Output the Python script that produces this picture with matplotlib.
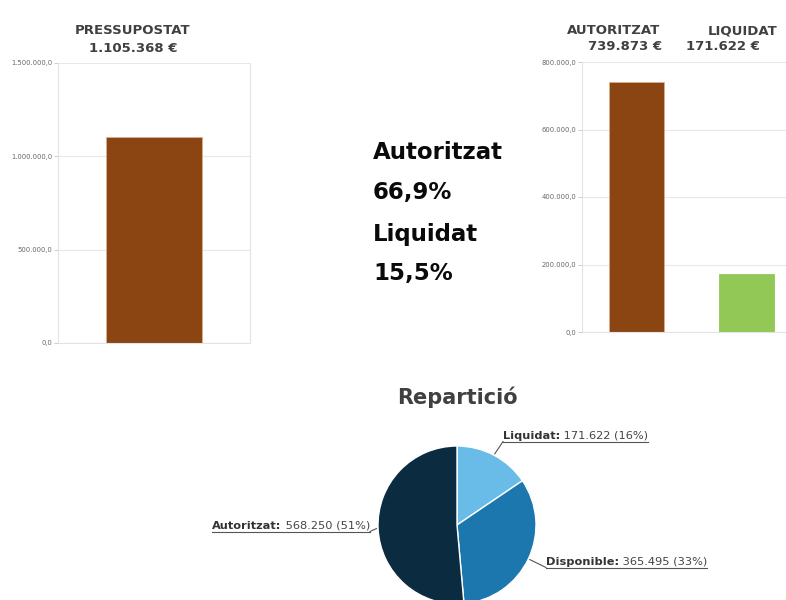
import matplotlib
matplotlib.use("Agg")
import matplotlib.pyplot as plt
import numpy as np
from matplotlib.lines import Line2D
from matplotlib.transforms import IdentityTransform

# ---------------- data ----------------
budget = 1105368
authorized = 739873
liquidated = 171622
left_label = "PRESSUPOSTAT"
right_labels = ["AUTORITZAT", "LIQUIDAT"]
right_values = [authorized, liquidated]
left_ticks = [0, 500000, 1000000, 1500000]
right_ticks = [0, 200000, 400000, 600000, 800000]
pie_title = "Repartició"
pie_labels = ["Liquidat", "Disponible", "Autoritzat"]
pie_values = [171622, 365495, 568250]

W, H = 786, 600
BROWN = "#8B4513"
GREEN = "#92C855"
PIE_COLORS = ["#6ABCE8", "#1C77AE", "#0B2B40"]
TITLE_C = "#404040"


def fx(px):
    return px / W


def fy(py):
    return 1 - py / H


def thou(v, dec=0):
    s = f"{v:,.{dec}f}"
    return s.replace(",", "X").replace(".", ",").replace("X", ".")


fig = plt.figure(figsize=(W / 100, H / 100), dpi=100)
fig.patch.set_facecolor("white")


def style_bar_axes(ax, ticks, right_spine):
    ax.set_ylim(ticks[0], ticks[-1])
    ax.set_yticks(ticks)
    ax.set_yticklabels([thou(t, 1) for t in ticks], fontsize=4.9, color="#666666")
    ax.set_xticks([])
    ax.yaxis.grid(True, color="#e8e8e8", lw=0.8)
    ax.set_axisbelow(True)
    for s in ["left", "bottom", "right", "top"]:
        ax.spines[s].set_color("#e3e3e3")
        ax.spines[s].set_linewidth(0.8)
    ax.spines["top"].set_visible(False)
    ax.spines["right"].set_visible(right_spine)
    ax.tick_params(axis="y", length=3, width=0.7, color="#cccccc", pad=1)


# ---------------- left bar chart ----------------
axL = fig.add_axes([fx(58), fy(343), 192 / W, 280 / H])
axL.bar([0], [budget], width=0.99, color=BROWN, edgecolor="#d8b08a", lw=0.6)
axL.set_xlim(-1, 1)
style_bar_axes(axL, left_ticks, True)
fig.text(fx(133), fy(31), left_label, ha="center", va="center",
         fontsize=9.5, weight="bold", color=TITLE_C)
fig.text(fx(133), fy(48), thou(budget) + " €", ha="center", va="center",
         fontsize=9.5, weight="bold", color=TITLE_C)

# ---------------- right bar chart ----------------
axR = fig.add_axes([fx(582), fy(332), 219 / W, 270 / H])
axR.bar([0, 1], right_values, width=0.5, color=[BROWN, GREEN],
        edgecolor=["#d8b08a", GREEN], lw=0.6)
axR.set_xlim(-0.5, 1.5)
style_bar_axes(axR, right_ticks, False)
name_x = [614, 743]
val_x = [625, 723]
for i, (lab, v) in enumerate(zip(right_labels, right_values)):
    fig.text(fx(name_x[i]), fy(31), lab, ha="center", va="center",
             fontsize=9.5, weight="bold", color=TITLE_C)
    fig.text(fx(val_x[i]), fy(47), thou(v) + " €", ha="center", va="center",
             fontsize=9.5, weight="bold", color=TITLE_C)

# ---------------- middle percentages ----------------
pct_auth = authorized / budget * 100
pct_liq = liquidated / budget * 100
mid_lines = ["Autoritzat", f"{pct_auth:.1f}%".replace(".", ","),
             "Liquidat", f"{pct_liq:.1f}%".replace(".", ",")]
mid_y = [152, 193, 234, 273]
for txt, yy in zip(mid_lines, mid_y):
    fig.text(fx(373), fy(yy), txt, ha="left", va="center",
             fontsize=16.5, weight="bold", color="#0a0a0a")

# ---------------- pie ----------------
R = 79
cx, cy = 457, 525
k = 1.3
axP = fig.add_axes([fx(cx - k * R), fy(cy + k * R), 2 * k * R / W, 2 * k * R / H])
wedges, _ = axP.pie(pie_values, colors=PIE_COLORS, startangle=90, counterclock=False,
                    radius=1, wedgeprops=dict(edgecolor="white", linewidth=1))
axP.set_xlim(-k, k)
axP.set_ylim(-k, k)
axP.set_aspect("auto")
axP.axis("off")
fig.text(fx(457), fy(397), pie_title, ha="center", va="center",
         fontsize=15, weight="bold", color=TITLE_C)

total = sum(pie_values)
pcts = [round(v / total * 100) for v in pie_values]

fig.canvas.draw()
rend = fig.canvas.get_renderer()
ident = IdentityTransform()

# label anchor (px, baseline py) and alignment
label_pos = {"Liquidat": (503, 439, "left"),
             "Disponible": (546, 565, "left"),
             "Autoritzat": (370, 529, "right")}

for w, name, v, p in zip(wedges, pie_labels, pie_values, pcts):
    lx, ly, ha = label_pos[name]
    dx, dy = lx, H - ly  # display coords
    bold = name + ":"
    rest = " " + thou(v) + f" ({p}%)"
    t1 = fig.text(0, 0, bold, fontsize=8.2, weight="bold", color="#333333",
                  transform=ident, va="baseline", ha="left")
    t2 = fig.text(0, 0, rest, fontsize=8.2, color="#444444",
                  transform=ident, va="baseline", ha="left")
    w1 = t1.get_window_extent(rend).width
    w2 = t2.get_window_extent(rend).width
    tot = w1 + w2
    x0 = dx if ha == "left" else dx - tot
    t1.set_position((x0, dy))
    t2.set_position((x0 + w1, dy))
    uy = dy - 2.5
    fig.add_artist(Line2D([x0, x0 + tot], [uy, uy], transform=ident,
                          color="#555555", lw=0.8))
    # connector from pie edge
    ang = np.deg2rad((w.theta1 + w.theta2) / 2)
    ex, ey = axP.transData.transform((1.02 * np.cos(ang), 1.02 * np.sin(ang)))
    end_x = x0 if ha == "left" else x0 + tot
    fig.add_artist(Line2D([ex, end_x], [ey, uy], transform=ident,
                          color="#555555", lw=0.8))

fig.savefig("out.png", dpi=100, facecolor="white")
